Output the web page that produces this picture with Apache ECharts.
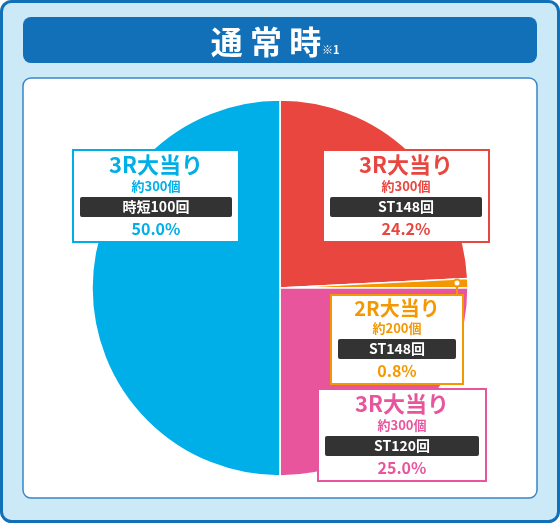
<!DOCTYPE html><html><head><meta charset="utf-8"><script src="https://cdn.jsdelivr.net/npm/echarts@6/dist/echarts.min.js"></script>
<style>html,body{margin:0;padding:0;}#c{width:560px;height:523px;}</style></head><body><div id="c"></div><script>
const titles=['3R大当り','2R大当り','3R大当り','3R大当り'];
const subs=['約300個','約200個','約300個','約300個'];
const stLabels=['ST148回','ST148回','ST120回','時短100回'];
const values=[24.2,0.8,25.0,50.0];
const pctLabels=['24.2%','0.8%','25.0%','50.0%'];
const colors=['#e8463e','#f39800','#e8559c','#00aee8'];
const boxes=[[406,151,156],[397,296,122],[402,390,158],[156,151,156]];
const chart=echarts.init(document.getElementById('c'));
const F='"Noto Sans CJK JP",sans-serif';
const labelEls=values.map((v,i)=>{const c=colors[i],w=boxes[i][2];return {type:'text',x:boxes[i][0]-w/2-4,y:boxes[i][1],z:30,
 style:{text:'{t|'+titles[i]+'}\n{s|'+subs[i]+'}\n{b|'+stLabels[i]+'}\n{p|'+pctLabels[i]+'}',
  backgroundColor:'#fff',borderColor:c,borderWidth:2,padding:[1,4,1,4],
  rich:{t:{fontFamily:F,fontWeight:'bold',fontSize:i==1?20:22,fill:c,width:w,align:'center',lineHeight:i==1?22:25},
   s:{fontFamily:F,fontWeight:'bold',fontSize:13,fill:c,width:w,align:'center',lineHeight:19},
   b:{fontFamily:F,fontWeight:'bold',fontSize:14,fill:'#fff',backgroundColor:'#333',borderRadius:2,width:w-4,align:'center',height:20,lineHeight:22},
   p:{fontFamily:F,fontWeight:'bold',fontSize:16,fill:c,width:w,align:'center',lineHeight:22}}}};});
chart.setOption({
 graphic:[
  {type:'rect',shape:{x:1.5,y:1.5,width:557,height:520,r:10},style:{fill:'#cce9f7',stroke:'#1170b8',lineWidth:3},z:-10},
  {type:'rect',shape:{x:23,y:17,width:514,height:46,r:8},style:{fill:'#1170b8'},z:-9},
  {type:'text',x:266,y:42,z:5,style:{text:'通 常 時',fill:'#fff',font:'bold 32px '+F,align:'center',verticalAlign:'middle'}},
  {type:'text',x:322,y:50,z:5,style:{text:'※1',fill:'#fff',font:'bold 11px '+F,align:'left',verticalAlign:'middle'}},
  {type:'rect',shape:{x:23,y:78,width:514,height:420,r:8},style:{fill:'#fff',stroke:'#3a86c8',lineWidth:1.5},z:-9},
  {type:'polyline',shape:{points:[[457,283],[457,296]]},style:{stroke:'#f39800',lineWidth:2},z:20},
  {type:'circle',shape:{cx:457,cy:283,r:3.5},style:{fill:'#fff',stroke:'#f39800',lineWidth:2},z:20}
 ].concat(labelEls),
 series:[{type:'pie',center:[280,288],radius:[0,188],startAngle:90,clockwise:true,silent:true,
  itemStyle:{borderColor:'#fff',borderWidth:1.5},label:{show:false},labelLine:{show:false},
  data:values.map((v,i)=>({value:v,itemStyle:{color:colors[i]}}))}]
});
</script></body></html>
